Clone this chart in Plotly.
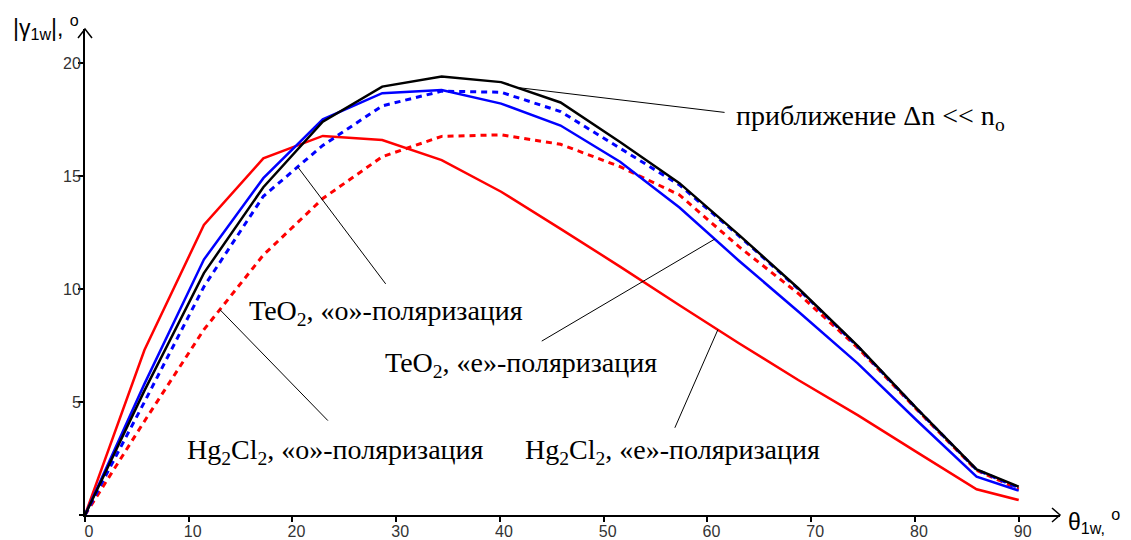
import numpy as np
import plotly.graph_objects as go

# --- data ---
theta = [0, 5.73, 11.46, 17.19, 22.92, 28.65, 34.38, 40.11, 45.84, 51.57,
         57.30, 63.03, 68.75, 74.48, 80.21, 85.94, 90]
approx = [0, 5.5, 10.7, 14.5, 17.4, 18.95, 19.4, 19.15, 18.25, 16.5,
          14.68, 12.39, 10.03, 7.48, 4.69, 2.02, 1.25]          # black solid
teo2_e = [0, 5.8, 11.3, 14.9, 17.5, 18.66, 18.8, 18.2, 17.23, 15.63,
          13.6, 11.25, 9.0, 6.71, 4.17, 1.70, 1.08]              # blue solid
teo2_o = [0, 5.0, 10.1, 14.1, 16.35, 18.1, 18.75, 18.7, 17.85, 16.22,
          14.6, 12.35, 10.0, 7.45, 4.68, 2.0, 1.2]               # blue dashed
hg_e = [0, 7.3, 12.83, 15.78, 16.77, 16.59, 15.7, 14.3, 12.66, 10.99,
        9.28, 7.6, 5.97, 4.42, 2.77, 1.14, 0.66]                 # red solid
hg_o = [0, 4.15, 8.2, 11.5, 14.0, 15.85, 16.75, 16.82, 16.4, 15.41,
        14.16, 11.87, 9.8, 7.4, 4.65, 1.98, 1.15]                # red dashed

x_ticks = [0, 10, 20, 30, 40, 50, 60, 70, 80, 90]
y_ticks = [5, 10, 15, 20]

fig = go.Figure()
dash = "6px,5px"
fig.add_trace(go.Scatter(x=theta, y=hg_o, mode="lines",
                         line=dict(color="#ff0000", width=3, dash=dash)))
fig.add_trace(go.Scatter(x=theta, y=hg_e, mode="lines",
                         line=dict(color="#ff0000", width=2.5)))
fig.add_trace(go.Scatter(x=theta, y=teo2_o, mode="lines",
                         line=dict(color="#0000ff", width=3, dash=dash)))
fig.add_trace(go.Scatter(x=theta, y=teo2_e, mode="lines",
                         line=dict(color="#0000ff", width=2.5)))
fig.add_trace(go.Scatter(x=theta, y=approx, mode="lines",
                         line=dict(color="#000000", width=2.5)))

serif = "Liberation Serif, Times New Roman, serif"
label_font = dict(family=serif, size=28, color="black")

shapes = []
# pointer lines: (curve, x on curve, tail offset in px: right, down)
pointers = [
    (approx, 41.6, 208, 25),
    (teo2_o, 20.5, 88, 117),
    (hg_o, 13.0, 108, 111),
    (teo2_e, 60.7, -173, 102),
    (hg_e, 61.0, -43, 98),
]
for curve, xp, dx, dy in pointers:
    yp = float(np.interp(xp, theta, curve))
    shapes.append(dict(type="line", xref="x", yref="y",
                       xsizemode="pixel", ysizemode="pixel",
                       xanchor=xp, yanchor=yp, x0=0, y0=0, x1=dx, y1=-dy,
                       line=dict(color="black", width=1)))

annotations = []
labels = [
    ("приближение Δn &lt;&lt; n<sub>o</sub>", 62.6, 17.6),
    ("TeO<sub>2</sub>, «o»-поляризация", 15.57, 8.94),
    ("TeO<sub>2</sub>, «e»-поляризация", 28.7, 6.64),
    ("Hg<sub>2</sub>Cl<sub>2</sub>, «o»-поляризация", 9.62, 2.79),
    ("Hg<sub>2</sub>Cl<sub>2</sub>, «e»-поляризация", 42.2, 2.79),
]
for txt, lx, ly in labels:
    annotations.append(dict(x=lx, y=ly, xref="x", yref="y", text=txt,
                            showarrow=False, xanchor="left", yanchor="middle",
                            font=label_font))

sans = "Liberation Sans, Arial, sans-serif"
annotations.append(dict(x=0, y=1, xref="paper", yref="paper", xshift=-4, yshift=2,
                        text="|γ<sub>1w</sub>|, <sup>o</sup>", showarrow=False,
                        xanchor="right", yanchor="middle",
                        font=dict(family=sans, size=23, color="black")))
annotations.append(dict(x=1, y=0, xref="paper", yref="paper", xshift=6, yshift=-6,
                        text="θ<sub>1w,</sub> <sup>o</sup>", showarrow=False,
                        xanchor="left", yanchor="middle",
                        font=dict(family=sans, size=23, color="black")))

shapes += [
    dict(type="path", xref="paper", yref="paper", xsizemode="pixel",
         ysizemode="pixel", xanchor=0, yanchor=1, path="M -7,-9 L 0,0 L 7,-9",
         line=dict(color="black", width=1.5)),
    dict(type="path", xref="paper", yref="paper", xsizemode="pixel",
         ysizemode="pixel", xanchor=1, yanchor=0, path="M -8,7 L 0,0 L -8,-7",
         line=dict(color="black", width=1.5)),
    # small overshoot of the x axis to the left of the y axis
    dict(type="line", xref="paper", yref="paper", xsizemode="pixel",
         ysizemode="pixel", xanchor=0, yanchor=0, x0=-6, x1=0, y0=0, y1=0,
         line=dict(color="black", width=2)),
]

tick_font = dict(family=sans, size=16, color="#333333")
fig.update_layout(
    width=1131, height=540,
    margin=dict(l=85, r=71, t=29, b=25),
    paper_bgcolor="white", plot_bgcolor="white",
    showlegend=False,
    annotations=annotations,
    shapes=shapes,
    xaxis=dict(range=[0, 93.98], tickvals=x_ticks, ticktext=[str(v) for v in x_ticks],
               showgrid=False, zeroline=False, showline=True, linecolor="black",
               linewidth=2, ticks="outside", ticklen=5, tickwidth=1.5,
               tickcolor="black", tickfont=tick_font, ticklabelshift=4,
               ticklabelstandoff=-4, automargin=False),
    yaxis=dict(range=[0, 21.5], tickvals=y_ticks, ticktext=[str(v) for v in y_ticks],
               showgrid=False, zeroline=False, showline=True, linecolor="black",
               linewidth=2, ticks="outside", ticklen=5, tickwidth=1.5,
               tickcolor="black", tickfont=tick_font, ticklabelstandoff=-6,
               automargin=False),
)

fig.write_html("out.html")
